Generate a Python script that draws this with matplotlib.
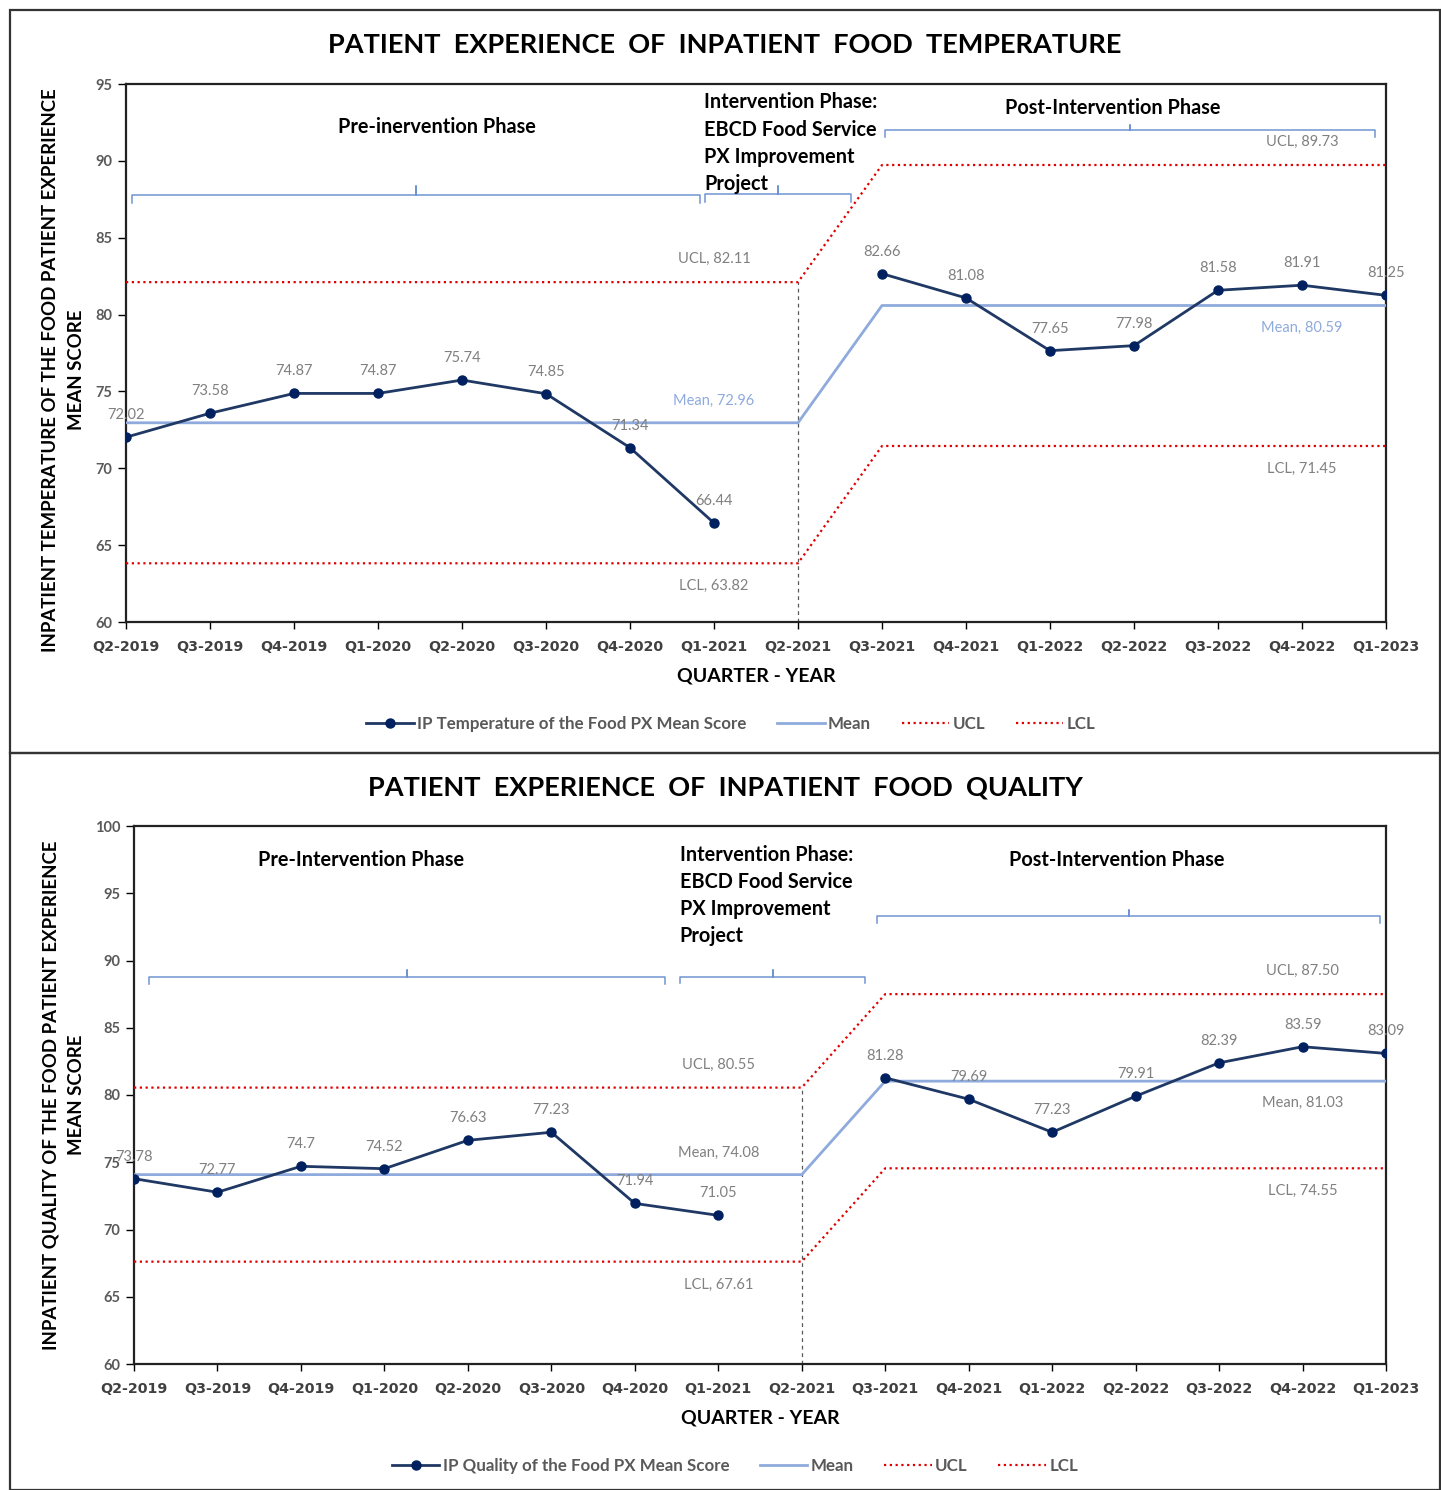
import matplotlib
matplotlib.use("Agg")
import matplotlib.pyplot as plt
from matplotlib.lines import Line2D
from matplotlib.patches import Rectangle
import numpy as np

plt.rcParams["font.family"] = ["Lato", "DejaVu Sans"]

QUARTERS = [
    "Q2-2019", "Q3-2019", "Q4-2019", "Q1-2020", "Q2-2020", "Q3-2020",
    "Q4-2020", "Q1-2021", "Q2-2021", "Q3-2021", "Q4-2021", "Q1-2022",
    "Q2-2022", "Q3-2022", "Q4-2022", "Q1-2023",
]

# temperature chart
temp_scores = [72.02, 73.58, 74.87, 74.87, 75.74, 74.85, 71.34, 66.44, None,
               82.66, 81.08, 77.65, 77.98, 81.58, 81.91, 81.25]
temp_labels = ["72.02", "73.58", "74.87", "74.87", "75.74", "74.85", "71.34", "66.44", None,
               "82.66", "81.08", "77.65", "77.98", "81.58", "81.91", "81.25"]
temp_mean = [72.96, 72.96, 72.96, 72.96, 72.96, 72.96, 72.96, 72.96, 72.96,
             80.59, 80.59, 80.59, 80.59, 80.59, 80.59, 80.59]
temp_ucl = [82.11, 82.11, 82.11, 82.11, 82.11, 82.11, 82.11, 82.11, 82.11,
            89.73, 89.73, 89.73, 89.73, 89.73, 89.73, 89.73]
temp_lcl = [63.82, 63.82, 63.82, 63.82, 63.82, 63.82, 63.82, 63.82, 63.82,
            71.45, 71.45, 71.45, 71.45, 71.45, 71.45, 71.45]

# quality chart
qual_scores = [73.78, 72.77, 74.7, 74.52, 76.63, 77.23, 71.94, 71.05, None,
               81.28, 79.69, 77.23, 79.91, 82.39, 83.59, 83.09]
qual_labels = ["73.78", "72.77", "74.7", "74.52", "76.63", "77.23", "71.94", "71.05", None,
               "81.28", "79.69", "77.23", "79.91", "82.39", "83.59", "83.09"]
qual_mean = [74.08, 74.08, 74.08, 74.08, 74.08, 74.08, 74.08, 74.08, 74.08,
             81.03, 81.03, 81.03, 81.03, 81.03, 81.03, 81.03]
qual_ucl = [80.55, 80.55, 80.55, 80.55, 80.55, 80.55, 80.55, 80.55, 80.55,
            87.50, 87.50, 87.50, 87.50, 87.50, 87.50, 87.50]
qual_lcl = [67.61, 67.61, 67.61, 67.61, 67.61, 67.61, 67.61, 67.61, 67.61,
            74.55, 74.55, 74.55, 74.55, 74.55, 74.55, 74.55]

NAVY = "#1f3864"
MARKER = "#002060"
MEAN_BLUE = "#8faadc"
RED = "#e00000"
GREY = "#808080"
BRACE = "#6f94d2"

W, H = 1441, 1490


def draw_brace(ax, x0, x1, y, hook, tip):
    mid = (x0 + x1) / 2
    ax.plot([x0, x0, mid, mid, mid, x1, x1],
            [y - hook, y, y, y + tip, y, y, y - hook],
            color=BRACE, lw=1.1, solid_joinstyle="round", zorder=2)


def draw_chart(ax, scores, labels, mean, ucl, lcl, ymin, ymax, ystep,
               mean_label_color, braces, phase_texts, ylabel, ylabel_pos,
               legend_label):
    x = np.arange(len(QUARTERS))
    y = np.array([np.nan if v is None else v for v in scores], dtype=float)

    ax.plot(x, ucl, color=RED, lw=1.6, ls=(0, (1, 1.6)), zorder=3)
    ax.plot(x, lcl, color=RED, lw=1.6, ls=(0, (1, 1.6)), zorder=3)
    ax.plot(x, mean, color=MEAN_BLUE, lw=2.0, zorder=3)
    ax.plot([8, 8], [ymin, ucl[8]], color="#595959", lw=0.9, ls=(0, (3, 3)), zorder=2)
    ax.plot(x, y, color=NAVY, lw=2.0, marker="o", ms=6.5,
            markerfacecolor=MARKER, markeredgecolor=MARKER, zorder=4)

    for i, v in enumerate(y):
        if np.isnan(v):
            continue
        ax.annotate(labels[i], (i, v), xytext=(0, 22), textcoords="offset pixels",
                    ha="center", va="center", fontsize=10.5, color=GREY, zorder=5)

    # control limit labels
    for idx, seg in [(7, 0), (14, 9)]:
        ax.annotate(f"UCL, {ucl[seg]:.2f}", (idx, ucl[seg]), xytext=(0, 23),
                    textcoords="offset pixels", ha="center", va="center",
                    fontsize=10.5, color=GREY)
        ax.annotate(f"LCL, {lcl[seg]:.2f}", (idx, lcl[seg]), xytext=(0, -23),
                    textcoords="offset pixels", ha="center", va="center",
                    fontsize=10.5, color=GREY)
        ax.annotate(f"Mean, {mean[seg]:.2f}", (idx, mean[seg]),
                    xytext=(0, 22 if seg == 0 else -22),
                    textcoords="offset pixels", ha="center", va="center",
                    fontsize=10.5, color=mean_label_color)

    for x0, x1, yb, hook, tip in braces:
        draw_brace(ax, x0, x1, yb, hook, tip)

    for tx, ty, text, ha in phase_texts:
        ax.text(tx, ty, text, ha=ha, va="top", fontsize=14.3, fontweight="bold",
                color="black", linespacing=1.45)

    ax.set_xlim(0, len(QUARTERS) - 1)
    ax.set_ylim(ymin, ymax)
    ax.set_yticks(np.arange(ymin, ymax + 0.1, ystep))
    ax.set_xticks(x)
    ax.set_xticklabels(QUARTERS)
    for lbl in ax.get_xticklabels():
        lbl.set_fontfamily("DejaVu Sans")
        lbl.set_fontweight("bold")
        lbl.set_fontsize(10.3)
        lbl.set_color("#404040")
    ax.tick_params(axis="y", labelsize=10.5, labelcolor="#595959", length=6,
                   width=1.0, pad=4)
    ax.tick_params(axis="x", length=5, width=1.0, pad=8)
    for lbl in ax.get_yticklabels():
        lbl.set_fontweight("bold")
    for spine in ax.spines.values():
        spine.set_linewidth(1.6)
        spine.set_color("#222222")

    ax.set_xlabel("QUARTER - YEAR", fontsize=14, fontweight="bold", labelpad=10)
    ax.set_ylabel(ylabel, fontsize=13.4, fontweight="bold", linespacing=1.65)
    ax.yaxis.set_label_coords(*ylabel_pos)

    handles = [
        Line2D([], [], color=NAVY, lw=2.0, marker="o", ms=6.5,
               markerfacecolor=MARKER, markeredgecolor=MARKER),
        Line2D([], [], color=MEAN_BLUE, lw=2.0),
        Line2D([], [], color=RED, lw=1.6, ls=(0, (1, 1.6))),
        Line2D([], [], color=RED, lw=1.6, ls=(0, (1, 1.6))),
    ]
    leg = ax.legend(handles, [legend_label, "Mean", "UCL", "LCL"], ncol=4,
                    loc="center", bbox_to_anchor=(0.48, -0.19), frameon=False,
                    fontsize=12.2, handlelength=2.8, handletextpad=0.2,
                    columnspacing=1.8)
    for t in leg.get_texts():
        t.set_color("#595959")
        t.set_fontweight("bold")


fig = plt.figure(figsize=(W / 100, H / 100), dpi=100)

# panel frames
fig.add_artist(Rectangle((10 / W, 1 - 753 / H), 1430 / W, 743 / H,
                         transform=fig.transFigure, fill=False,
                         edgecolor="#333333", lw=1.6))
fig.add_artist(Rectangle((10 / W, 0), 1430 / W, 1 - 753 / H,
                         transform=fig.transFigure, fill=False,
                         edgecolor="#333333", lw=1.6))

ax1 = fig.add_axes([126 / W, 1 - 622 / H, 1260 / W, 538 / H])
draw_chart(
    ax1, temp_scores, temp_labels, temp_mean, temp_ucl, temp_lcl, 60, 95, 5, MEAN_BLUE,
    braces=[(0.07, 6.83, 87.78, 0.55, 0.6), (6.89, 8.63, 87.85, 0.55, 0.5),
            (9.04, 14.87, 92.0, 0.45, 0.35)],
    phase_texts=[(3.70, 92.85, "Pre-inervention Phase", "center"),
                 (6.88, 94.45, "Intervention Phase:\nEBCD Food Service\nPX Improvement\nProject", "left"),
                 (11.75, 94.1, "Post-Intervention Phase", "center")],
    ylabel="INPATIENT TEMPERATURE OF THE FOOD PATIENT EXPERIENCE\nMEAN SCORE",
    ylabel_pos=(-0.0325, 0.468),
    legend_label="IP Temperature of the Food PX Mean Score",
)
fig.text(725 / W, 1 - 45 / H, "PATIENT  EXPERIENCE  OF  INPATIENT  FOOD  TEMPERATURE",
         ha="center", va="center", fontsize=19.5, fontweight="bold")

ax2 = fig.add_axes([134 / W, 1 - 1364 / H, 1252 / W, 538 / H])
draw_chart(
    ax2, qual_scores, qual_labels, qual_mean, qual_ucl, qual_lcl, 60, 100, 5, GREY,
    braces=[(0.18, 6.36, 88.77, 0.5, 0.55), (6.54, 8.76, 88.8, 0.5, 0.5),
            (8.90, 14.93, 93.3, 0.5, 0.45)],
    phase_texts=[(2.72, 98.2, "Pre-Intervention Phase", "center"),
                 (6.54, 98.6, "Intervention Phase:\nEBCD Food Service\nPX Improvement\nProject", "left"),
                 (11.77, 98.2, "Post-Intervention Phase", "center")],
    ylabel="INPATIENT QUALITY OF THE FOOD PATIENT EXPERIENCE\nMEAN SCORE",
    ylabel_pos=(-0.039, 0.5),
    legend_label="IP Quality of the Food PX Mean Score",
)
fig.text(725 / W, 1 - 787 / H, "PATIENT  EXPERIENCE  OF  INPATIENT  FOOD  QUALITY",
         ha="center", va="center", fontsize=19.5, fontweight="bold")

fig.savefig("out.png", dpi=100)
